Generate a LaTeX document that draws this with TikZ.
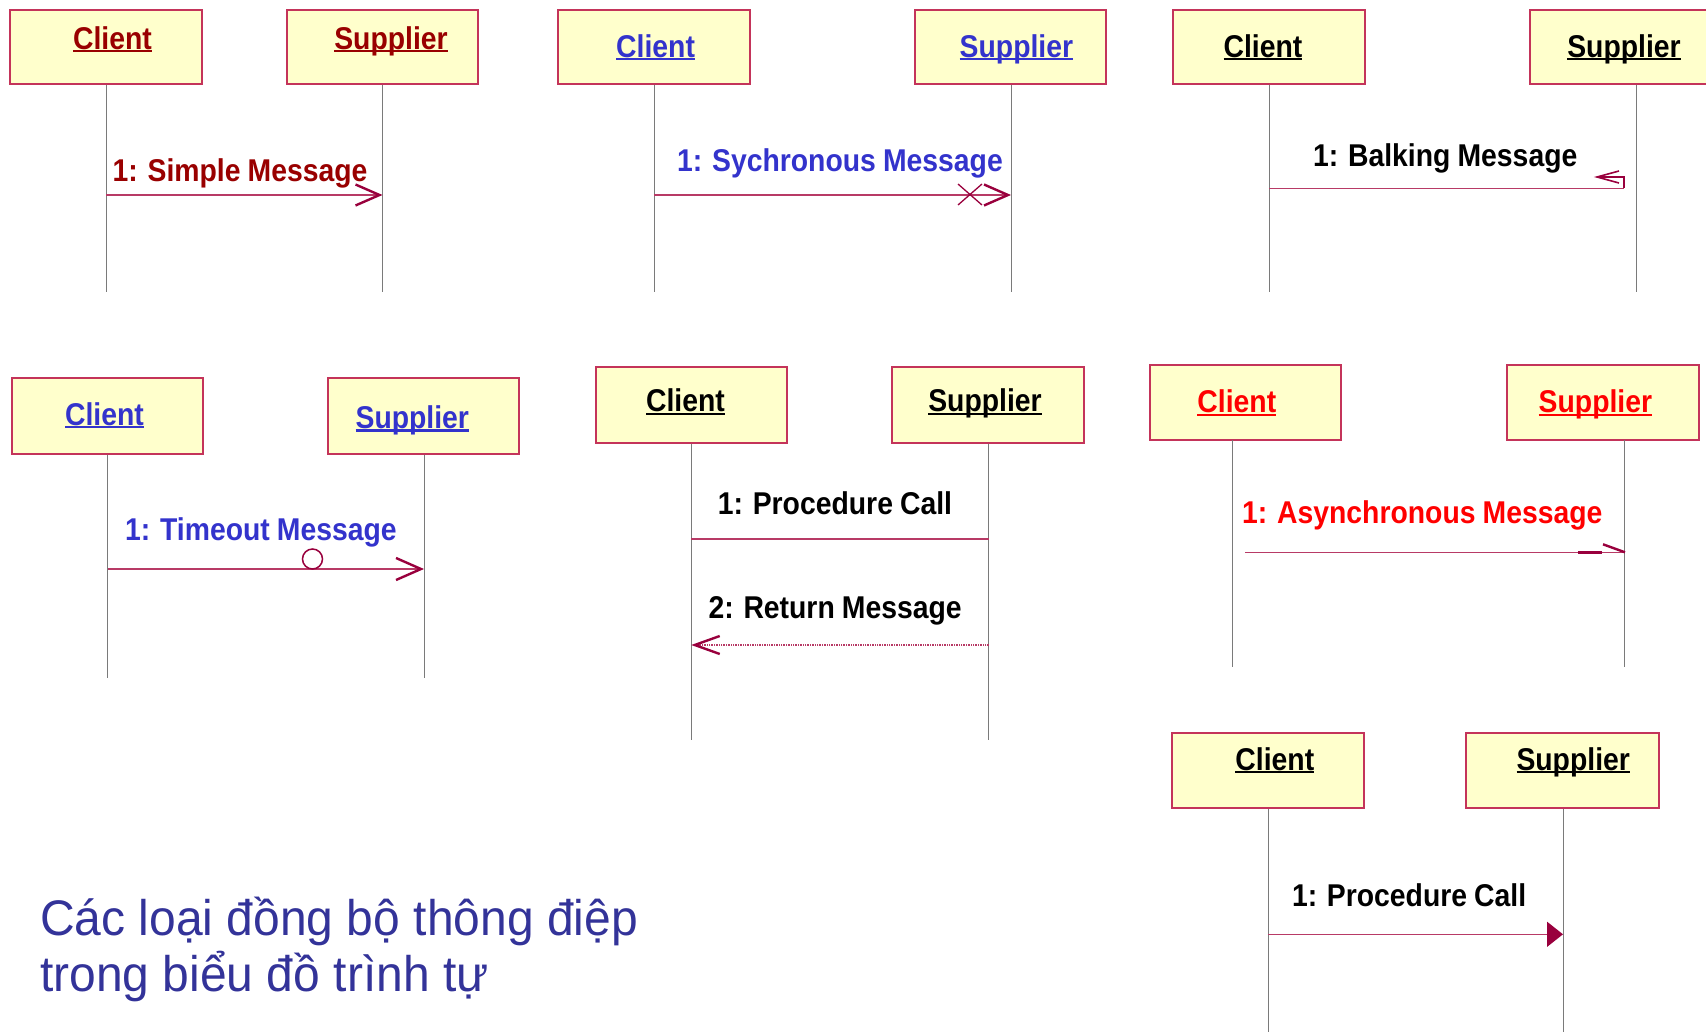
\documentclass[tikz,border=0pt]{standalone}
\usepackage{fontspec}
\setmainfont{Liberation Sans}
\newfontfamily\labfont[FakeStretch=0.9,WordSpace=0.9]{Liberation Sans}
\newfontfamily\ttlfont[FakeStretch=0.96]{Liberation Sans}
\usetikzlibrary{arrows.meta}
\definecolor{boxfill}{HTML}{FFFFCC}
\definecolor{boxline}{HTML}{C4345A}
\definecolor{msgc}{HTML}{B83A66}
\definecolor{headc}{HTML}{99003D}
\definecolor{lifec}{HTML}{7A7A7A}
\definecolor{dred}{HTML}{990000}
\definecolor{blu}{HTML}{3333CC}
\definecolor{rd}{HTML}{FF0000}
\definecolor{ttl}{HTML}{333399}
\newcommand\myul[1]{\setbox0=\hbox{#1}\rlap{\rule[-3.2pt]{\wd0}{2.1pt}}\box0}
\tikzset{
  objbox/.style={draw=boxline, fill=boxfill, line width=2pt, inner sep=0pt, minimum height=74pt},
  objtxt/.style={font=\labfont\bfseries\fontsize{31.5}{36}\selectfont, anchor=base, inner sep=0pt},
  lbl/.style={font=\labfont\bfseries\fontsize{31.5}{36}\selectfont, anchor=base west, inner sep=0pt},
  life/.style={draw=lifec, line width=1pt},
  msg/.style={draw=msgc, line width=1.4pt},
  head/.style={draw=headc, line width=2.4pt},
  barb/.style={-{Straight Barb[length=24pt,width=21pt,line width=2.4pt,color=headc]}},
}
\begin{document}
\begin{tikzpicture}[x=1pt,y=-1pt]
\useasboundingbox (0,0) rectangle (1706,1032);

% ---------- Panel 1: simple ----------
\node[objbox, minimum width=192pt] (c1) at (105.7,47.3) {};
\node[objbox, minimum width=191pt] (s1) at (382.5,47.3) {};
\node[objtxt, text=dred] (c1t) at (112.5,49.3) {\myul{Client}};
\node[objtxt, text=dred] (s1t) at (391,49.3) {\myul{Supplier}};
\coordinate (c1e) at (106,292); \coordinate (s1e) at (382.5,292);
\draw[life] (c1.south -| c1e) -- (c1e);
\draw[life] (s1.south -| s1e) -- (s1e);
\coordinate (m1a) at (106,195); \coordinate (m1b) at (382.5,195);
\draw[msg, barb] (m1a) -- (m1b);
\node[lbl, text=dred] (l1) at (112.5,181.7) {1: Simple Message};

% ---------- Panel 2: synchronous ----------
\node[objbox, minimum width=191.6pt] (c2) at (653.8,47.3) {};
\node[objbox, minimum width=191.6pt] (s2) at (1010.4,47.3) {};
\node[objtxt, text=blu] (c2t) at (655.6,57.3) {\myul{Client}};
\node[objtxt, text=blu] (s2t) at (1016.4,57.3) {\myul{Supplier}};
\coordinate (c2e) at (654,292); \coordinate (s2e) at (1011,292);
\draw[life] (c2.south -| c2e) -- (c2e);
\draw[life] (s2.south -| s2e) -- (s2e);
\coordinate (m2a) at (654,195); \coordinate (m2b) at (1011,195);
\draw[msg, barb] (m2a) -- (m2b);
\coordinate (x2) at (970,194.5);
\draw[draw=headc, line width=1.3pt] ([shift={(-12,-10.5)}]x2) -- ([shift={(12,10.5)}]x2)
      ([shift={(-12,10.5)}]x2) -- ([shift={(12,-10.5)}]x2);
\node[lbl, text=blu] (l2) at (677,171.7) {1: Sychronous Message};

% ---------- Panel 3: balking ----------
\node[objbox, minimum width=192.4pt] (c3) at (1269.2,47.3) {};
\node[objbox, minimum width=212pt] (s3) at (1636,47.3) {};
\node[objtxt] (c3t) at (1263,57.3) {\myul{Client}};
\node[objtxt] (s3t) at (1624,57.3) {\myul{Supplier}};
\coordinate (c3e) at (1269.3,292); \coordinate (s3e) at (1636,292);
\draw[life] (c3.south -| c3e) -- (c3e);
\draw[life] (s3.south -| s3e) -- (s3e);
\coordinate (m3a) at (1269.3,188.5); \coordinate (m3b) at (1624,188.5);
\draw[msg] (m3a) -- (m3b);
\draw[draw=headc, line width=1.6pt] (m3b) -- ++(0,-11.5) -- ++(-27,0);
\draw[draw=headc, line width=1.6pt] (1619,171) -- (1597,177) -- (1619,183);
\node[lbl] (l3) at (1313,166.7) {1: Balking Message};

% ---------- Panel 4: timeout ----------
\node[objbox, minimum width=191pt, minimum height=76pt] (c4) at (107.5,416.3) {};
\node[objbox, minimum width=191pt, minimum height=76pt] (s4) at (423.5,416.3) {};
\node[objtxt, text=blu] (c4t) at (104.5,425) {\myul{Client}};
\node[objtxt, text=blu] (s4t) at (412.3,428.3) {\myul{Supplier}};
\coordinate (c4e) at (107.5,678); \coordinate (s4e) at (424,678);
\draw[life] (c4.south -| c4e) -- (c4e);
\draw[life] (s4.south -| s4e) -- (s4e);
\coordinate (m4a) at (107.5,569); \coordinate (m4b) at (424,569);
\draw[msg, -{Straight Barb[length=25pt,width=22pt,line width=2.4pt,color=headc]}] (m4a) -- (m4b);
\node[circle, draw=headc, line width=1.5pt, minimum size=20pt, inner sep=0pt] (t4) at (312.5,559) {};
\node[lbl, text=blu] (l4) at (125,540) {1: Timeout Message};

% ---------- Panel 5: procedure call + return ----------
\node[objbox, minimum width=191pt, minimum height=76pt] (c5) at (691,404.7) {};
\node[objbox, minimum width=191.7pt, minimum height=76pt] (s5) at (988.2,404.7) {};
\node[objtxt] (c5t) at (685.5,411.7) {\myul{Client}};
\node[objtxt] (s5t) at (985,411.7) {\myul{Supplier}};
\coordinate (c5e) at (691.2,740); \coordinate (s5e) at (988.7,740);
\draw[life] (c5.south -| c5e) -- (c5e);
\draw[life] (s5.south -| s5e) -- (s5e);
\coordinate (m5a) at (691.2,539); \coordinate (m5b) at (988.7,539);
\draw[msg] (m5a) -- (m5b);
\node[lbl] (l5a) at (717.7,514) {1: Procedure Call};
\coordinate (r5a) at (988.7,645); \coordinate (r5b) at (691.2,645);
\draw[msg, densely dotted, -{Straight Barb[length=25pt,width=18pt,line width=2.4pt,color=headc]}] (r5a) -- (r5b);
\node[lbl] (l5b) at (708.4,618) {2: Return Message};

% ---------- Panel 6: asynchronous ----------
\node[objbox, minimum width=191.7pt, minimum height=75.6pt] (c6) at (1245.5,402.5) {};
\node[objbox, minimum width=192pt, minimum height=75.6pt] (s6) at (1602.8,402.5) {};
\node[objtxt, text=rd] (c6t) at (1236.8,412.7) {\myul{Client}};
\node[objtxt, text=rd] (s6t) at (1595.4,412.7) {\myul{Supplier}};
\coordinate (c6s) at (1232.8,440.3); \coordinate (c6e) at (1232.8,666.7);
\coordinate (s6s) at (1624.8,440.3); \coordinate (s6e) at (1624.8,666.7);
\draw[life] (c6s) -- (c6e);
\draw[life] (s6s) -- (s6e);
\coordinate (m6a) at (1245.4,552.3); \coordinate (m6b) at (1625,552.3);
\draw[msg] (m6a) -- (m6b);
\draw[draw=headc, line width=3pt] (1578,552.3) -- (1602,552.3);
\draw[draw=headc, line width=2.4pt] (1603,544.3) -- (m6b);
\node[lbl, text=rd] (l6) at (1242,523.3) {1: Asynchronous Message};

% ---------- Panel 7: procedure call (filled) ----------
\node[objbox, minimum width=191.8pt, minimum height=75.6pt] (c7) at (1268,770.5) {};
\node[objbox, minimum width=192.2pt, minimum height=75.6pt] (s7) at (1562.4,770.5) {};
\node[objtxt] (c7t) at (1274.8,770) {\myul{Client}};
\node[objtxt] (s7t) at (1573.2,770) {\myul{Supplier}};
\coordinate (c7e) at (1268,1032); \coordinate (s7e) at (1563,1032);
\draw[life] (c7.south -| c7e) -- (c7e);
\draw[life] (s7.south -| s7e) -- (s7e);
\coordinate (m7a) at (1268,934.3); \coordinate (m7b) at (1563,934.3);
\draw[msg, -{Triangle[length=16pt,width=25pt,color=headc]}] (m7a) -- (m7b);
\node[lbl] (l7) at (1291.8,906.7) {1: Procedure Call};

% ---------- Title ----------
\node[anchor=base west, inner sep=0pt, text=ttl, font=\ttlfont\fontsize{50}{56}\selectfont] (ttl1) at (40,935) {Các loại đồng bộ thông điệp};
\node[anchor=base west, inner sep=0pt, text=ttl, font=\ttlfont\fontsize{50}{56}\selectfont] (ttl2) at (40,991.7) {trong biểu đồ trình tự};
\end{tikzpicture}
\end{document}
